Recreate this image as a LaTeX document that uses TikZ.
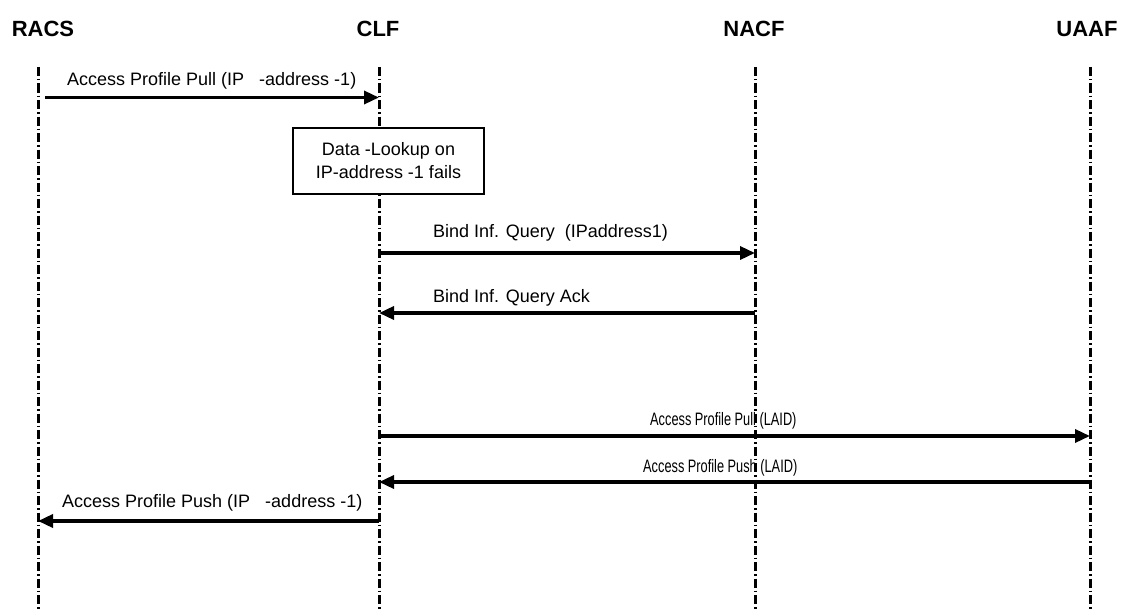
\documentclass[tikz,border=0pt]{standalone}
\usepackage{fontspec}
\usepackage{graphicx}
\setmainfont{Liberation Sans}
\usetikzlibrary{arrows.meta}
\newcommand{\narrowtext}[1]{\scalebox{0.71}[1]{#1}}
\begin{document}
\begin{tikzpicture}[x=1pt,y=-1pt,
  title/.style={font=\fontsize{22}{25}\selectfont\bfseries, anchor=base, inner sep=0pt},
  lbl/.style={font=\fontsize{18}{22}\selectfont, anchor=base west, inner sep=0pt},
  life/.style={line width=3pt, dash pattern=on 9pt off 3pt on 1.5pt off 3pt},
  msg/.style={line width=3.4pt, -{Triangle[length=15pt,width=13pt]}},
  boxst/.style={draw, line width=1.3pt, fill=white, minimum width=191pt, minimum height=66pt,
    align=center, font=\fontsize{18}{23}\selectfont, inner sep=0pt}]
\useasboundingbox (0,0) rectangle (1122,610);
% titles
\node[title] (racs) at (43,37) {RACS};
\node[title] (clf) at (378,37) {CLF};
\node[title] (nacf) at (754,37) {NACF};
\node[title] (uaaf) at (1087,37) {UAAF};
% lifelines
\foreach \n/\x in {racsL/38, clfL/379, nacfL/755, uaafL/1090}{
  \coordinate (\n top) at (\x,67);
  \coordinate (\n bot) at (\x,610);
  \draw[life] (\n top) -- (\n bot);
}
% message 1
\coordinate (m1s) at (45,97.5);
\coordinate (m1e) at (379,97.5);
\draw[msg] (m1s) -- (m1e);
\node[lbl] (l1) at (67,85) {Access Profile Pull (IP\ \ \ -address -1)};
% box
\node[boxst] (box) at (388.5,161) {Data -Lookup on\\IP-address -1 fails};
% message 2
\coordinate (m2s) at (379,253);
\coordinate (m2e) at (755,253);
\draw[msg] (m2s) -- (m2e);
\node[lbl] (l2) at (433,237) {Bind Inf. Query\ \ (IPaddress1)};
% message 3
\coordinate (m3s) at (755,313);
\coordinate (m3e) at (379,313);
\draw[msg] (m3s) -- (m3e);
\node[lbl] (l3) at (433,302) {Bind Inf. Query Ack};
% message 4
\coordinate (m4s) at (379,436);
\coordinate (m4e) at (1090,436);
\draw[msg] (m4s) -- (m4e);
\node[lbl] (l4) at (650,425) {\narrowtext{Access Profile Pull (LAID)}};
% message 5
\coordinate (m5s) at (1090,482);
\coordinate (m5e) at (379,482);
\draw[msg] (m5s) -- (m5e);
\node[lbl] (l5) at (643,472) {\narrowtext{Access Profile Push (LAID)}};
% message 6
\coordinate (m6s) at (379,521);
\coordinate (m6e) at (38,521);
\draw[msg] (m6s) -- (m6e);
\node[lbl] (l6) at (62,507) {Access Profile Push (IP\ \ \ -address -1)};
\end{tikzpicture}
\end{document}
